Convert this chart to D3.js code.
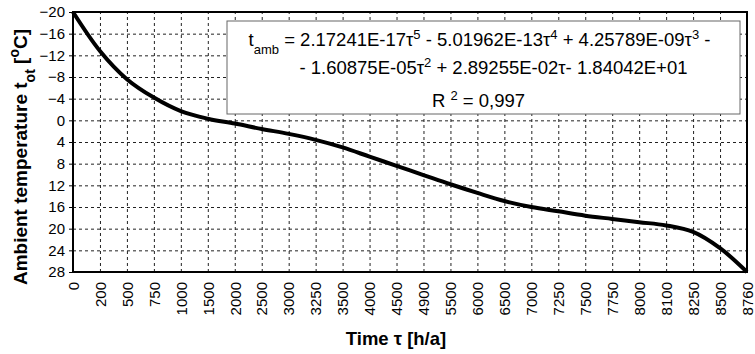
<!doctype html>
<html lang="en">
<head>
    <meta charset="utf-8">
    <title></title>
    <script src="https://d3js.org/d3.v7.min.js"></script>
    <style type="text/css">
    body { margin: 0; background: #fff; }
    text { font-family: "Liberation Sans", Arial, Helvetica, sans-serif; fill: #000; }
    .grid line { stroke: #222; stroke-dasharray: 3,3; stroke-width: 1; }
    .grid path { display: none; }
    </style>
</head>

<body>
</body>

<script type="text/javascript">

    // hours per year (category axis, not evenly spaced values)
    var hours = ["0","200","500","750","1000","1500","2000","2500","3000","3250",
                 "3500","4000","4500","4900","5500","6000","6500","7000","7250",
                 "7500","7750","8000","8100","8250","8500","8760"];

    // ambient temperature
    var temps = [-20, -12.8, -7.6, -4.2, -1.7, -0.3, 0.6, 1.6, 2.5, 3.6,
                 5.0, 6.7, 8.4, 10.1, 11.8, 13.4, 14.9, 16.0, 16.8,
                 17.6, 18.2, 18.8, 19.4, 20.6, 23.6, 28];

    var yTicks = [-20,-16,-12,-8,-4,0,4,8,12,16,20,24,28];

    var data = hours.map((h,i)=>({hour:h, temp:temps[i]}));

    var margin = {top:12, bottom:82, left:73, right:8};
    var W = 755, H = 354;
    var width  = W - margin.left - margin.right;
    var height = H - margin.top  - margin.bottom;

    var xScale = d3.scalePoint()
                .domain(hours)
                .range([0, width]);

    var yScale = d3.scaleLinear()
                  .domain([-20, 28])
                  .range([0, height]);

    var root = d3.select("body")
    .append("svg")
    .attr("width", W)
    .attr("height", H);

    var svg = root.append("g")
    .attr("transform", "translate("+margin.left+","+margin.top+")");

    // dashed grid
    svg.append("g")
    .attr("class", "grid")
    .call(d3.axisLeft(yScale).tickValues(yTicks).tickSize(-width).tickFormat(""));

    svg.append("g")
    .attr("class", "grid")
    .attr("transform", "translate(0,"+height+")")
    .call(d3.axisBottom(xScale).tickSize(-height).tickFormat(""));

    // y axis
    var yAxis = svg.append("g")
    .call(d3.axisLeft(yScale).tickValues(yTicks).tickSize(4).tickPadding(4));
    yAxis.select(".domain").remove();
    yAxis.selectAll("line").attr("stroke", "#000");
    yAxis.selectAll("text").style("font-size", "15px");

    // x axis
    var xAxis = svg.append("g")
    .attr("transform", "translate(0,"+height+")")
    .call(d3.axisBottom(xScale).tickSize(0));
    xAxis.select(".domain").remove();
    xAxis.selectAll("text")
    .style("font-size", "15px")
    .attr("text-anchor", "end")
    .attr("transform", "rotate(-90)")
    .attr("x", -10)
    .attr("y", 0)
    .attr("dy", "0.35em");

    // frame
    svg.append("rect")
    .attr("x", 0).attr("y", 0)
    .attr("width", width).attr("height", height)
    .attr("fill", "none")
    .attr("stroke", "#000")
    .attr("stroke-width", 2);

    // fit equation box
    var bx = 227 - margin.left, by = 21 - margin.top, bw = 513, bh = 93;
    svg.append("rect")
    .attr("x", bx).attr("y", by)
    .attr("width", bw).attr("height", bh)
    .attr("fill", "#fff")
    .attr("stroke", "#666")
    .attr("stroke-width", 1);

    var eq = svg.append("g").style("font-size", "18.5px");
    var cx = bx + bw/2;

    function sup(t, s){ t.append("tspan").attr("baseline-shift","super").style("font-size","13px").text(s); }
    function sub(t, s){ t.append("tspan").attr("baseline-shift","sub").style("font-size","13px").text(s); }

    var l1 = eq.append("text").attr("x", cx-4).attr("y", by+25).attr("text-anchor","middle");
    l1.append("tspan").text("t");
    sub(l1, "amb");
    l1.append("tspan").text(" = 2.17241E-17\u03c4");
    sup(l1, "5");
    l1.append("tspan").text(" - 5.01962E-13\u03c4");
    sup(l1, "4");
    l1.append("tspan").text(" + 4.25789E-09\u03c4");
    sup(l1, "3");
    l1.append("tspan").text(" -");

    var l2 = eq.append("text").attr("x", cx+10).attr("y", by+53).attr("text-anchor","middle");
    l2.append("tspan").text("- 1.60875E-05\u03c4");
    sup(l2, "2");
    l2.append("tspan").text(" + 2.89255E-02\u03c4- 1.84042E+01");

    var l3 = eq.append("text").attr("x", cx-5).attr("y", by+86).attr("text-anchor","middle");
    l3.append("tspan").text("R ");
    sup(l3, "2");
    l3.append("tspan").text(" = 0,997");

    // curve
    var line = d3.line()
    .x(d=>xScale(d.hour))
    .y(d=>yScale(d.temp))
    .curve(d3.curveCatmullRom.alpha(0.5));

    svg.append("path")
    .datum(data)
    .attr("fill", "none")
    .attr("stroke", "#000")
    .attr("stroke-width", 4)
    .attr("stroke-linejoin", "round")
    .attr("d", line);

    // axis titles
    var yl = root.append("text")
    .attr("transform", "translate(27,157) rotate(-90)")
    .attr("text-anchor", "middle")
    .style("font-size", "19px")
    .style("font-weight", "bold");
    yl.append("tspan").text("Ambient temperature t");
    yl.append("tspan").attr("baseline-shift","sub").style("font-size","14px").text("ot");
    yl.append("tspan").text(" [");
    yl.append("tspan").attr("baseline-shift","super").style("font-size","14px").text("o");
    yl.append("tspan").text("C]");

    root.append("text")
    .attr("x", 396)
    .attr("y", 345)
    .attr("text-anchor", "middle")
    .style("font-size", "18.5px")
    .style("font-weight", "bold")
    .text("Time \u03c4 [h/a]");

</script>
</html>
